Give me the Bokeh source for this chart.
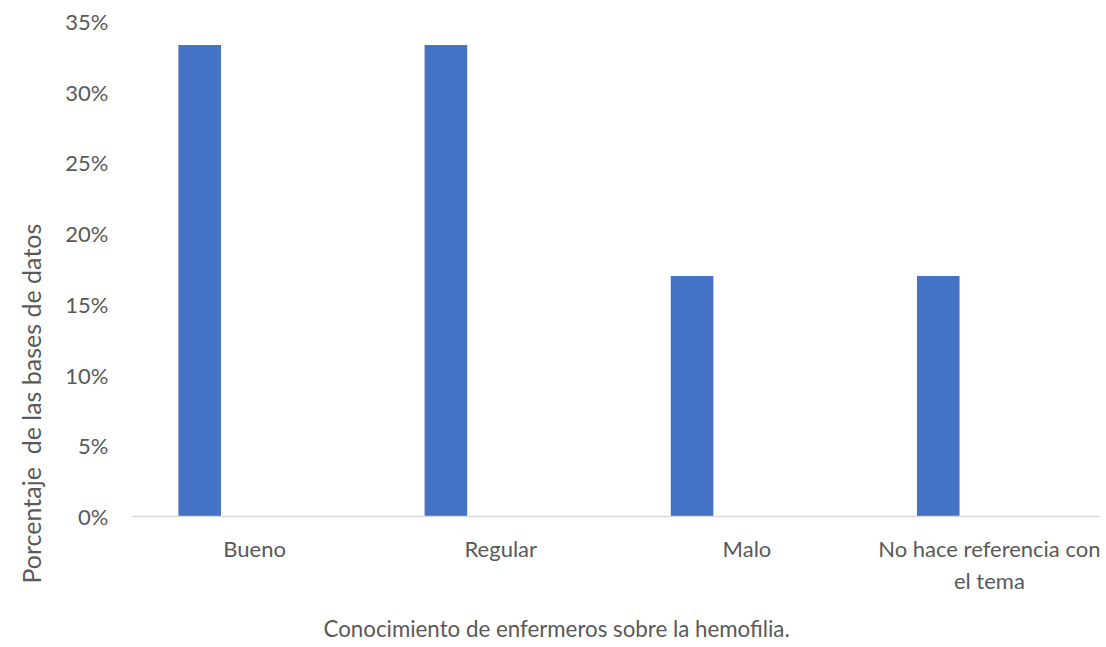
from bokeh.plotting import figure
from bokeh.models import Range1d, FixedTicker, PrintfTickFormatter, Title
from bokeh.embed import file_html
from bokeh.resources import INLINE

categories = ["Bueno", "Regular", "Malo", "No hace referencia con\nel tema"]
values = [33.33, 33.33, 17.0, 17.0]
y_ticks = [0, 5, 10, 15, 20, 25, 30, 35]
x_title = "Conocimiento de enfermeros sobre la hemofilia."
y_title = "Porcentaje\u00a0 de las bases de datos"

FONT = "Lato"
GREY = "#595959"
BAR = "#4472C4"

centers = [i + 0.5 for i in range(len(categories))]
bar_x = [c - 0.223 for c in centers]

p = figure(
    frame_width=969, frame_height=495,
    min_border_left=131, min_border_right=0, min_border_top=21, min_border_bottom=131,
    x_range=Range1d(0, 3.936), y_range=Range1d(0, 35),
    output_backend="svg", toolbar_location=None,
)
p.outline_line_color = None
p.grid.grid_line_color = None

p.vbar(x=bar_x, top=values, width=0.173, bottom=0, fill_color=BAR, line_color=None)

xa = p.xaxis[0]
xa.ticker = FixedTicker(ticks=centers)
xa.major_label_overrides = {c: lab for c, lab in zip(centers, categories)}
xa.axis_line_color = "#d9d9d9"
xa.axis_line_width = 1.5
xa.major_tick_line_color = None
xa.minor_tick_line_color = None
xa.major_tick_out = 0
xa.major_label_standoff = 18
xa.major_label_text_font = FONT
xa.major_label_text_font_size = "22px"
xa.major_label_text_color = GREY

ya = p.yaxis[0]
ya.ticker = FixedTicker(ticks=y_ticks)
ya.formatter = PrintfTickFormatter(format="%d%%")
ya.axis_line_color = None
ya.major_tick_line_color = None
ya.minor_tick_line_color = None
ya.major_tick_out = 0
ya.major_label_standoff = 23
ya.major_label_text_font = FONT
ya.major_label_text_font_size = "22px"
ya.major_label_text_color = GREY

p.add_layout(Title(text=x_title, align="left", offset=192, standoff=33,
                   text_font=FONT, text_font_size="22.3px", text_color=GREY,
                   text_font_style="normal"), "below")
p.add_layout(Title(text=y_title, align="left", offset=-67, standoff=29,
                   vertical_align="top",
                   text_font=FONT, text_font_size="25px", text_color=GREY,
                   text_font_style="normal"), "left")

open("out.html", "w").write(file_html(p, INLINE))
